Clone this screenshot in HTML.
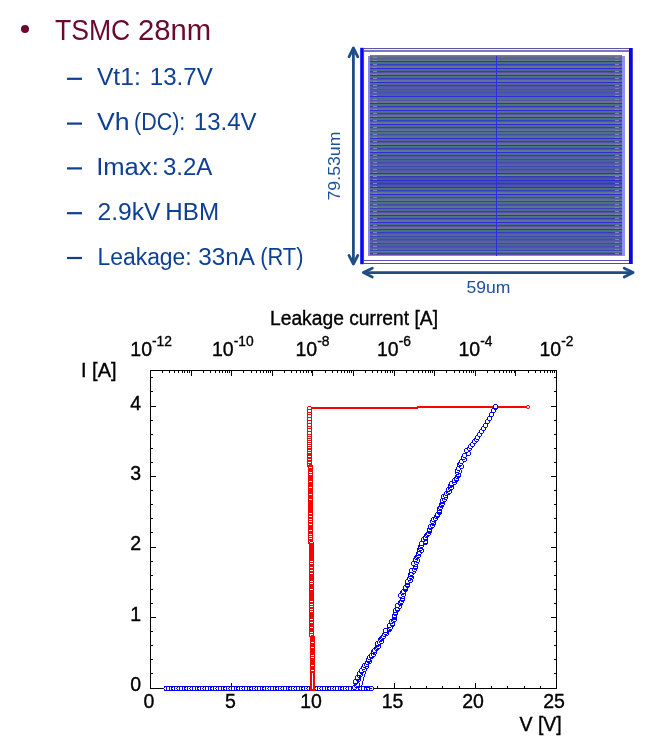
<!DOCTYPE html>
<html lang="en">
<head>
<meta charset="utf-8">
<title>TSMC 28nm</title>
<style>
html,body{margin:0;padding:0;background:#fff;}
body{width:649px;height:749px;position:relative;overflow:hidden;font-family:"Liberation Sans",sans-serif;}
svg{position:absolute;left:0;top:0;}
text{font-family:"Liberation Sans",sans-serif;}
.ax text{stroke:#000;stroke-width:0.35px;}
.t1{fill:#690a2e;font-size:28.8px;}
.t2{fill:#0d3f94;font-size:23.3px;}
.dim{fill:#1d4f9c;font-size:16.6px;}
.ax{fill:#000;font-size:19.5px;}
.sup{font-size:13.8px;}
</style>
</head>
<body>
<svg width="649" height="749" viewBox="0 0 649 749">
<!-- bullets -->
<circle cx="25" cy="28.9" r="4" fill="#690a2e"/>
<text class="t1" y="39.7"><tspan x="54.9" textLength="75.4" lengthAdjust="spacingAndGlyphs">TSMC</tspan><tspan> </tspan><tspan x="138" textLength="73.2" lengthAdjust="spacingAndGlyphs">28nm</tspan></text>
<g fill="#0d3f94">
<rect x="67" y="77.7" width="15" height="2.2"/>
<rect x="67" y="122.5" width="15" height="2.2"/>
<rect x="67" y="167.3" width="15" height="2.2"/>
<rect x="67" y="212.1" width="15" height="2.2"/>
<rect x="67" y="256.9" width="15" height="2.2"/>
</g>
<text class="t2" y="85.4"><tspan x="96.9" textLength="43.9" lengthAdjust="spacingAndGlyphs">Vt1:</tspan><tspan> </tspan><tspan x="149.8" textLength="63" lengthAdjust="spacingAndGlyphs">13.7V</tspan></text>
<text class="t2" y="130.2"><tspan x="96.9" textLength="32.6" lengthAdjust="spacingAndGlyphs">Vh</tspan><tspan> </tspan><tspan x="134" textLength="51.3" lengthAdjust="spacingAndGlyphs">(DC):</tspan><tspan> </tspan><tspan x="193.8" textLength="62.7" lengthAdjust="spacingAndGlyphs">13.4V</tspan></text>
<text class="t2" y="175"><tspan x="96.2" textLength="62.6" lengthAdjust="spacingAndGlyphs">Imax:</tspan><tspan> </tspan><tspan x="162.9" textLength="49.5" lengthAdjust="spacingAndGlyphs">3.2A</tspan></text>
<text class="t2" y="219.8"><tspan x="97.5" textLength="63" lengthAdjust="spacingAndGlyphs">2.9kV</tspan><tspan> </tspan><tspan x="165.3" textLength="53.8" lengthAdjust="spacingAndGlyphs">HBM</tspan></text>
<text class="t2" y="264.6"><tspan x="97.5" textLength="94.2" lengthAdjust="spacingAndGlyphs">Leakage:</tspan><tspan> </tspan><tspan x="198.2" textLength="55.4" lengthAdjust="spacingAndGlyphs">33nA</tspan><tspan> </tspan><tspan x="260.2" textLength="43.3" lengthAdjust="spacingAndGlyphs">(RT)</tspan></text>

<!-- layout block -->
<g shape-rendering="crispEdges">
<rect x="370" y="55" width="252" height="1" fill="#649164"/>
<rect x="370" y="56" width="252" height="1" fill="#6e6e8c"/>
<rect x="370" y="57" width="252" height="1" fill="#646496"/>
<rect x="370" y="58" width="252" height="1" fill="#526496"/>
<rect x="370" y="59" width="252" height="1" fill="#4c6e8c"/>
<rect x="370" y="60" width="252" height="1" fill="#647882"/>
<rect x="370" y="61" width="252" height="1" fill="#322ad4"/>
<rect x="370" y="62" width="252" height="1" fill="#48767c"/>
<rect x="370" y="63" width="252" height="1" fill="#4a6e86"/>
<rect x="370" y="64" width="252" height="1" fill="#343cc0"/>
<rect x="370" y="65" width="252" height="1" fill="#5850aa"/>
<rect x="370" y="66" width="252" height="1" fill="#5e748c"/>
<rect x="370" y="67" width="252" height="1" fill="#64768c"/>
<rect x="370" y="68" width="252" height="1" fill="#322ad4"/>
<rect x="370" y="69" width="252" height="1" fill="#48767c"/>
<rect x="370" y="70" width="252" height="1" fill="#4a6e86"/>
<rect x="370" y="71" width="252" height="1" fill="#343cc0"/>
<rect x="370" y="72" width="252" height="1" fill="#5850aa"/>
<rect x="370" y="73" width="252" height="1" fill="#5e748c"/>
<rect x="370" y="74" width="252" height="1" fill="#64768c"/>
<rect x="370" y="75" width="252" height="1" fill="#322ad4"/>
<rect x="370" y="76" width="252" height="1" fill="#48767c"/>
<rect x="370" y="77" width="252" height="1" fill="#4a6e86"/>
<rect x="370" y="78" width="252" height="1" fill="#343cc0"/>
<rect x="370" y="79" width="252" height="1" fill="#5850aa"/>
<rect x="370" y="80" width="252" height="1" fill="#5e748c"/>
<rect x="370" y="81" width="252" height="1" fill="#64768c"/>
<rect x="370" y="82" width="252" height="1" fill="#322ad4"/>
<rect x="370" y="83" width="252" height="1" fill="#48767c"/>
<rect x="370" y="84" width="252" height="1" fill="#4a6e86"/>
<rect x="370" y="85" width="252" height="1" fill="#343cc0"/>
<rect x="370" y="86" width="252" height="1" fill="#5850aa"/>
<rect x="370" y="87" width="252" height="1" fill="#505ea2"/>
<rect x="370" y="88" width="252" height="1" fill="#515ea2"/>
<rect x="370" y="89" width="252" height="1" fill="#474fb1"/>
<rect x="370" y="90" width="252" height="1" fill="#4b5e9f"/>
<rect x="370" y="91" width="252" height="1" fill="#4c5ca1"/>
<rect x="370" y="92" width="252" height="1" fill="#4752ad"/>
<rect x="370" y="93" width="252" height="1" fill="#4e56a8"/>
<rect x="370" y="94" width="252" height="1" fill="#505ea2"/>
<rect x="370" y="95" width="252" height="1" fill="#515ea2"/>
<rect x="370" y="96" width="252" height="1" fill="#322ad4"/>
<rect x="370" y="97" width="252" height="1" fill="#48767c"/>
<rect x="370" y="98" width="252" height="1" fill="#4a6e86"/>
<rect x="370" y="99" width="252" height="1" fill="#8250b9"/>
<rect x="370" y="100" width="252" height="1" fill="#5850aa"/>
<rect x="370" y="101" width="252" height="1" fill="#5e748c"/>
<rect x="370" y="102" width="252" height="1" fill="#64768c"/>
<rect x="370" y="103" width="252" height="1" fill="#322ad4"/>
<rect x="370" y="104" width="252" height="1" fill="#48767c"/>
<rect x="370" y="105" width="252" height="1" fill="#4a6e86"/>
<rect x="370" y="106" width="252" height="1" fill="#343cc0"/>
<rect x="370" y="107" width="252" height="1" fill="#5850aa"/>
<rect x="370" y="108" width="252" height="1" fill="#5e748c"/>
<rect x="370" y="109" width="252" height="1" fill="#64768c"/>
<rect x="370" y="110" width="252" height="1" fill="#322ad4"/>
<rect x="370" y="111" width="252" height="1" fill="#48767c"/>
<rect x="370" y="112" width="252" height="1" fill="#4a6e86"/>
<rect x="370" y="113" width="252" height="1" fill="#343cc0"/>
<rect x="370" y="114" width="252" height="1" fill="#5850aa"/>
<rect x="370" y="115" width="252" height="1" fill="#5e748c"/>
<rect x="370" y="116" width="252" height="1" fill="#64768c"/>
<rect x="370" y="117" width="252" height="1" fill="#322ad4"/>
<rect x="370" y="118" width="252" height="1" fill="#48767c"/>
<rect x="370" y="119" width="252" height="1" fill="#4a6e86"/>
<rect x="370" y="120" width="252" height="1" fill="#343cc0"/>
<rect x="370" y="121" width="252" height="1" fill="#5850aa"/>
<rect x="370" y="122" width="252" height="1" fill="#5e748c"/>
<rect x="370" y="123" width="252" height="1" fill="#64768c"/>
<rect x="370" y="124" width="252" height="1" fill="#322ad4"/>
<rect x="370" y="125" width="252" height="1" fill="#48767c"/>
<rect x="370" y="126" width="252" height="1" fill="#4a6e86"/>
<rect x="370" y="127" width="252" height="1" fill="#343cc0"/>
<rect x="370" y="128" width="252" height="1" fill="#545e9b"/>
<rect x="370" y="129" width="252" height="1" fill="#587489"/>
<rect x="370" y="130" width="252" height="1" fill="#5b7589"/>
<rect x="370" y="131" width="252" height="1" fill="#3d48b4"/>
<rect x="370" y="132" width="252" height="1" fill="#4a757f"/>
<rect x="370" y="133" width="252" height="1" fill="#4c7085"/>
<rect x="370" y="134" width="252" height="1" fill="#3e52a8"/>
<rect x="370" y="135" width="252" height="1" fill="#545e9b"/>
<rect x="370" y="136" width="252" height="1" fill="#587489"/>
<rect x="370" y="137" width="252" height="1" fill="#5b7589"/>
<rect x="370" y="138" width="252" height="1" fill="#322ad4"/>
<rect x="370" y="139" width="252" height="1" fill="#48767c"/>
<rect x="370" y="140" width="252" height="1" fill="#4a6e86"/>
<rect x="370" y="141" width="252" height="1" fill="#343cc0"/>
<rect x="370" y="142" width="252" height="1" fill="#5850aa"/>
<rect x="370" y="143" width="252" height="1" fill="#5e748c"/>
<rect x="370" y="144" width="252" height="1" fill="#64768c"/>
<rect x="370" y="145" width="252" height="1" fill="#322ad4"/>
<rect x="370" y="146" width="252" height="1" fill="#48767c"/>
<rect x="370" y="147" width="252" height="1" fill="#4a6e86"/>
<rect x="370" y="148" width="252" height="1" fill="#343cc0"/>
<rect x="370" y="149" width="252" height="1" fill="#5850aa"/>
<rect x="370" y="150" width="252" height="1" fill="#5e748c"/>
<rect x="370" y="151" width="252" height="1" fill="#64768c"/>
<rect x="370" y="152" width="252" height="1" fill="#322ad4"/>
<rect x="370" y="153" width="252" height="1" fill="#48767c"/>
<rect x="370" y="154" width="252" height="1" fill="#4a6e86"/>
<rect x="370" y="155" width="252" height="1" fill="#343cc0"/>
<rect x="370" y="156" width="252" height="1" fill="#5155a9"/>
<rect x="370" y="157" width="252" height="1" fill="#53639d"/>
<rect x="370" y="158" width="252" height="1" fill="#56649d"/>
<rect x="370" y="159" width="252" height="1" fill="#4246ba"/>
<rect x="370" y="160" width="252" height="1" fill="#4a6496"/>
<rect x="370" y="161" width="252" height="1" fill="#4b619a"/>
<rect x="370" y="162" width="252" height="1" fill="#424db2"/>
<rect x="370" y="163" width="252" height="1" fill="#5155a9"/>
<rect x="370" y="164" width="252" height="1" fill="#53639d"/>
<rect x="370" y="165" width="252" height="1" fill="#56649d"/>
<rect x="370" y="166" width="252" height="1" fill="#4246ba"/>
<rect x="370" y="167" width="252" height="1" fill="#4a6496"/>
<rect x="370" y="168" width="252" height="1" fill="#4b619a"/>
<rect x="370" y="169" width="252" height="1" fill="#424db2"/>
<rect x="370" y="170" width="252" height="1" fill="#5155a9"/>
<rect x="370" y="171" width="252" height="1" fill="#53639d"/>
<rect x="370" y="172" width="252" height="1" fill="#56649d"/>
<rect x="370" y="173" width="252" height="1" fill="#322ad4"/>
<rect x="370" y="174" width="252" height="1" fill="#48767c"/>
<rect x="370" y="175" width="252" height="1" fill="#9669af"/>
<rect x="370" y="176" width="252" height="1" fill="#343cc0"/>
<rect x="370" y="177" width="252" height="1" fill="#4642ba"/>
<rect x="370" y="178" width="252" height="1" fill="#4955a9"/>
<rect x="370" y="179" width="252" height="1" fill="#4d56a9"/>
<rect x="370" y="180" width="252" height="1" fill="#312dd1"/>
<rect x="370" y="181" width="252" height="1" fill="#3d56a0"/>
<rect x="370" y="182" width="252" height="1" fill="#3e52a6"/>
<rect x="370" y="183" width="252" height="1" fill="#3237c6"/>
<rect x="370" y="184" width="252" height="1" fill="#4642ba"/>
<rect x="370" y="185" width="252" height="1" fill="#4955a9"/>
<rect x="370" y="186" width="252" height="1" fill="#4d56a9"/>
<rect x="370" y="187" width="252" height="1" fill="#322ad4"/>
<rect x="370" y="188" width="252" height="1" fill="#48767c"/>
<rect x="370" y="189" width="252" height="1" fill="#4a6e86"/>
<rect x="370" y="190" width="252" height="1" fill="#343cc0"/>
<rect x="370" y="191" width="252" height="1" fill="#5850aa"/>
<rect x="370" y="192" width="252" height="1" fill="#5e748c"/>
<rect x="370" y="193" width="252" height="1" fill="#64768c"/>
<rect x="370" y="194" width="252" height="1" fill="#322ad4"/>
<rect x="370" y="195" width="252" height="1" fill="#4a757e"/>
<rect x="370" y="196" width="252" height="1" fill="#4b7085"/>
<rect x="370" y="197" width="252" height="1" fill="#3c4dae"/>
<rect x="370" y="198" width="252" height="1" fill="#555b9f"/>
<rect x="370" y="199" width="252" height="1" fill="#59748a"/>
<rect x="370" y="200" width="252" height="1" fill="#5d758a"/>
<rect x="370" y="201" width="252" height="1" fill="#3a40bc"/>
<rect x="370" y="202" width="252" height="1" fill="#4a757e"/>
<rect x="370" y="203" width="252" height="1" fill="#4b7085"/>
<rect x="370" y="204" width="252" height="1" fill="#3c4dae"/>
<rect x="370" y="205" width="252" height="1" fill="#6e46a5"/>
<rect x="370" y="206" width="252" height="1" fill="#59748a"/>
<rect x="370" y="207" width="252" height="1" fill="#5d758a"/>
<rect x="370" y="208" width="252" height="1" fill="#3a40bc"/>
<rect x="370" y="209" width="252" height="1" fill="#4a757e"/>
<rect x="370" y="210" width="252" height="1" fill="#4b7085"/>
<rect x="370" y="211" width="252" height="1" fill="#343cc0"/>
<rect x="370" y="212" width="252" height="1" fill="#5850aa"/>
<rect x="370" y="213" width="252" height="1" fill="#5e748c"/>
<rect x="370" y="214" width="252" height="1" fill="#64768c"/>
<rect x="370" y="215" width="252" height="1" fill="#322ad4"/>
<rect x="370" y="216" width="252" height="1" fill="#48767c"/>
<rect x="370" y="217" width="252" height="1" fill="#4a6e86"/>
<rect x="370" y="218" width="252" height="1" fill="#343cc0"/>
<rect x="370" y="219" width="252" height="1" fill="#5850aa"/>
<rect x="370" y="220" width="252" height="1" fill="#5e748c"/>
<rect x="370" y="221" width="252" height="1" fill="#64768c"/>
<rect x="370" y="222" width="252" height="1" fill="#322ad4"/>
<rect x="370" y="223" width="252" height="1" fill="#48767c"/>
<rect x="370" y="224" width="252" height="1" fill="#4a6e86"/>
<rect x="370" y="225" width="252" height="1" fill="#343cc0"/>
<rect x="370" y="226" width="252" height="1" fill="#5850aa"/>
<rect x="370" y="227" width="252" height="1" fill="#5e748c"/>
<rect x="370" y="228" width="252" height="1" fill="#64768c"/>
<rect x="370" y="229" width="252" height="1" fill="#322ad4"/>
<rect x="370" y="230" width="252" height="1" fill="#48767c"/>
<rect x="370" y="231" width="252" height="1" fill="#4a6e86"/>
<rect x="370" y="232" width="252" height="1" fill="#343cc0"/>
<rect x="370" y="233" width="252" height="1" fill="#5154a9"/>
<rect x="370" y="234" width="252" height="1" fill="#54659b"/>
<rect x="370" y="235" width="252" height="1" fill="#57669b"/>
<rect x="370" y="236" width="252" height="1" fill="#4043bc"/>
<rect x="370" y="237" width="252" height="1" fill="#4a6694"/>
<rect x="370" y="238" width="252" height="1" fill="#4b6299"/>
<rect x="370" y="239" width="252" height="1" fill="#414bb3"/>
<rect x="370" y="240" width="252" height="1" fill="#5154a9"/>
<rect x="370" y="241" width="252" height="1" fill="#54659b"/>
<rect x="370" y="242" width="252" height="1" fill="#57669b"/>
<rect x="370" y="243" width="252" height="1" fill="#4043bc"/>
<rect x="370" y="244" width="252" height="1" fill="#4a6694"/>
<rect x="370" y="245" width="252" height="1" fill="#4b6299"/>
<rect x="370" y="246" width="252" height="1" fill="#414bb3"/>
<rect x="370" y="247" width="252" height="1" fill="#5154a9"/>
<rect x="370" y="248" width="252" height="1" fill="#54659b"/>
<rect x="370" y="249" width="252" height="1" fill="#57669b"/>
<rect x="370" y="250" width="252" height="1" fill="#4043bc"/>
<rect x="370" y="251" width="252" height="1" fill="#8764b2"/>
<rect x="370" y="252" width="252" height="1" fill="#4a6e86"/>
<rect x="370" y="253" width="252" height="1" fill="#343cc0"/>
<rect x="370" y="254" width="252" height="1" fill="#5850aa"/>
<rect x="370" y="255" width="252" height="1" fill="#80968c"/>
<rect x="373" y="57" width="4" height="1" fill="#8480d0"/><rect x="615" y="57" width="4" height="1" fill="#8a7cc8"/>
<rect x="373" y="60" width="4" height="1" fill="#8480d0"/><rect x="615" y="60" width="4" height="1" fill="#8a7cc8"/>
<rect x="373" y="64" width="4" height="1" fill="#8480d0"/><rect x="615" y="64" width="4" height="1" fill="#8a7cc8"/>
<rect x="373" y="67" width="4" height="1" fill="#8480d0"/><rect x="615" y="67" width="4" height="1" fill="#8a7cc8"/>
<rect x="373" y="71" width="4" height="1" fill="#8480d0"/><rect x="615" y="71" width="4" height="1" fill="#8a7cc8"/>
<rect x="373" y="74" width="4" height="1" fill="#8480d0"/><rect x="615" y="74" width="4" height="1" fill="#8a7cc8"/>
<rect x="373" y="78" width="4" height="1" fill="#8480d0"/><rect x="615" y="78" width="4" height="1" fill="#8a7cc8"/>
<rect x="373" y="81" width="4" height="1" fill="#8480d0"/><rect x="615" y="81" width="4" height="1" fill="#8a7cc8"/>
<rect x="373" y="85" width="4" height="1" fill="#8480d0"/><rect x="615" y="85" width="4" height="1" fill="#8a7cc8"/>
<rect x="373" y="88" width="4" height="1" fill="#8480d0"/><rect x="615" y="88" width="4" height="1" fill="#8a7cc8"/>
<rect x="373" y="92" width="4" height="1" fill="#8480d0"/><rect x="615" y="92" width="4" height="1" fill="#8a7cc8"/>
<rect x="373" y="95" width="4" height="1" fill="#8480d0"/><rect x="615" y="95" width="4" height="1" fill="#8a7cc8"/>
<rect x="373" y="99" width="4" height="1" fill="#8480d0"/><rect x="615" y="99" width="4" height="1" fill="#8a7cc8"/>
<rect x="373" y="102" width="4" height="1" fill="#8480d0"/><rect x="615" y="102" width="4" height="1" fill="#8a7cc8"/>
<rect x="373" y="106" width="4" height="1" fill="#8480d0"/><rect x="615" y="106" width="4" height="1" fill="#8a7cc8"/>
<rect x="373" y="109" width="4" height="1" fill="#8480d0"/><rect x="615" y="109" width="4" height="1" fill="#8a7cc8"/>
<rect x="373" y="113" width="4" height="1" fill="#8480d0"/><rect x="615" y="113" width="4" height="1" fill="#8a7cc8"/>
<rect x="373" y="116" width="4" height="1" fill="#8480d0"/><rect x="615" y="116" width="4" height="1" fill="#8a7cc8"/>
<rect x="373" y="120" width="4" height="1" fill="#8480d0"/><rect x="615" y="120" width="4" height="1" fill="#8a7cc8"/>
<rect x="373" y="123" width="4" height="1" fill="#8480d0"/><rect x="615" y="123" width="4" height="1" fill="#8a7cc8"/>
<rect x="373" y="127" width="4" height="1" fill="#8480d0"/><rect x="615" y="127" width="4" height="1" fill="#8a7cc8"/>
<rect x="373" y="130" width="4" height="1" fill="#8480d0"/><rect x="615" y="130" width="4" height="1" fill="#8a7cc8"/>
<rect x="373" y="134" width="4" height="1" fill="#8480d0"/><rect x="615" y="134" width="4" height="1" fill="#8a7cc8"/>
<rect x="373" y="137" width="4" height="1" fill="#8480d0"/><rect x="615" y="137" width="4" height="1" fill="#8a7cc8"/>
<rect x="373" y="141" width="4" height="1" fill="#8480d0"/><rect x="615" y="141" width="4" height="1" fill="#8a7cc8"/>
<rect x="373" y="144" width="4" height="1" fill="#8480d0"/><rect x="615" y="144" width="4" height="1" fill="#8a7cc8"/>
<rect x="373" y="148" width="4" height="1" fill="#8480d0"/><rect x="615" y="148" width="4" height="1" fill="#8a7cc8"/>
<rect x="373" y="151" width="4" height="1" fill="#8480d0"/><rect x="615" y="151" width="4" height="1" fill="#8a7cc8"/>
<rect x="373" y="155" width="4" height="1" fill="#8480d0"/><rect x="615" y="155" width="4" height="1" fill="#8a7cc8"/>
<rect x="373" y="158" width="4" height="1" fill="#8480d0"/><rect x="615" y="158" width="4" height="1" fill="#8a7cc8"/>
<rect x="373" y="162" width="4" height="1" fill="#8480d0"/><rect x="615" y="162" width="4" height="1" fill="#8a7cc8"/>
<rect x="373" y="165" width="4" height="1" fill="#8480d0"/><rect x="615" y="165" width="4" height="1" fill="#8a7cc8"/>
<rect x="373" y="169" width="4" height="1" fill="#8480d0"/><rect x="615" y="169" width="4" height="1" fill="#8a7cc8"/>
<rect x="373" y="172" width="4" height="1" fill="#8480d0"/><rect x="615" y="172" width="4" height="1" fill="#8a7cc8"/>
<rect x="373" y="176" width="4" height="1" fill="#8480d0"/><rect x="615" y="176" width="4" height="1" fill="#8a7cc8"/>
<rect x="373" y="179" width="4" height="1" fill="#8480d0"/><rect x="615" y="179" width="4" height="1" fill="#8a7cc8"/>
<rect x="373" y="183" width="4" height="1" fill="#8480d0"/><rect x="615" y="183" width="4" height="1" fill="#8a7cc8"/>
<rect x="373" y="186" width="4" height="1" fill="#8480d0"/><rect x="615" y="186" width="4" height="1" fill="#8a7cc8"/>
<rect x="373" y="190" width="4" height="1" fill="#8480d0"/><rect x="615" y="190" width="4" height="1" fill="#8a7cc8"/>
<rect x="373" y="193" width="4" height="1" fill="#8480d0"/><rect x="615" y="193" width="4" height="1" fill="#8a7cc8"/>
<rect x="373" y="197" width="4" height="1" fill="#8480d0"/><rect x="615" y="197" width="4" height="1" fill="#8a7cc8"/>
<rect x="373" y="200" width="4" height="1" fill="#8480d0"/><rect x="615" y="200" width="4" height="1" fill="#8a7cc8"/>
<rect x="373" y="204" width="4" height="1" fill="#8480d0"/><rect x="615" y="204" width="4" height="1" fill="#8a7cc8"/>
<rect x="373" y="207" width="4" height="1" fill="#8480d0"/><rect x="615" y="207" width="4" height="1" fill="#8a7cc8"/>
<rect x="373" y="211" width="4" height="1" fill="#8480d0"/><rect x="615" y="211" width="4" height="1" fill="#8a7cc8"/>
<rect x="373" y="214" width="4" height="1" fill="#8480d0"/><rect x="615" y="214" width="4" height="1" fill="#8a7cc8"/>
<rect x="373" y="218" width="4" height="1" fill="#8480d0"/><rect x="615" y="218" width="4" height="1" fill="#8a7cc8"/>
<rect x="373" y="221" width="4" height="1" fill="#8480d0"/><rect x="615" y="221" width="4" height="1" fill="#8a7cc8"/>
<rect x="373" y="225" width="4" height="1" fill="#8480d0"/><rect x="615" y="225" width="4" height="1" fill="#8a7cc8"/>
<rect x="373" y="228" width="4" height="1" fill="#8480d0"/><rect x="615" y="228" width="4" height="1" fill="#8a7cc8"/>
<rect x="373" y="232" width="4" height="1" fill="#8480d0"/><rect x="615" y="232" width="4" height="1" fill="#8a7cc8"/>
<rect x="373" y="235" width="4" height="1" fill="#8480d0"/><rect x="615" y="235" width="4" height="1" fill="#8a7cc8"/>
<rect x="373" y="239" width="4" height="1" fill="#8480d0"/><rect x="615" y="239" width="4" height="1" fill="#8a7cc8"/>
<rect x="373" y="242" width="4" height="1" fill="#8480d0"/><rect x="615" y="242" width="4" height="1" fill="#8a7cc8"/>
<rect x="373" y="246" width="4" height="1" fill="#8480d0"/><rect x="615" y="246" width="4" height="1" fill="#8a7cc8"/>
<rect x="373" y="249" width="4" height="1" fill="#8480d0"/><rect x="615" y="249" width="4" height="1" fill="#8a7cc8"/>
<rect x="373" y="253" width="4" height="1" fill="#8480d0"/><rect x="615" y="253" width="4" height="1" fill="#8a7cc8"/>
</g>
<!-- layout frame -->
<g shape-rendering="crispEdges">
<rect x="364" y="48" width="265" height="1" fill="#5f55a5"/>
<rect x="364" y="49" width="265" height="1" fill="#f8f4e1"/>
<rect x="364" y="50" width="265" height="2" fill="#7d73cd"/>
<rect x="364" y="260" width="265" height="1" fill="#5555c8"/>
<rect x="364" y="263" width="265" height="1" fill="#554b9b"/>
<rect x="364" y="52" width="1" height="208" fill="#f3eec0"/>
<rect x="628" y="52" width="1" height="208" fill="#f3eec0"/>
<rect x="629" y="48" width="3" height="216" fill="#0505ff"/>
<rect x="632" y="48" width="1" height="216" fill="#5046c8"/>
<rect x="368" y="56" width="2" height="200" fill="#8484f2"/>
<rect x="622" y="56" width="3" height="200" fill="#9090f4"/>
<rect x="496" y="56" width="1" height="200" fill="#2a30e0"/>
</g>
<rect x="360.2" y="47.8" width="3.6" height="216.4" fill="#0808ff"/>
<!-- dimension arrows -->
<g stroke="#1f4e85" stroke-width="2.8" fill="none" stroke-linecap="round" stroke-linejoin="round">
<line x1="353.4" y1="49" x2="353.4" y2="263"/>
<polyline points="349,56.8 353.4,48 357.8,56.8"/>
<polyline points="349,255.4 353.4,264.1 357.8,255.4"/>
<line x1="364" y1="272.6" x2="632.5" y2="272.6"/>
<polyline points="372.3,268.2 363.4,272.6 372.3,277"/>
<polyline points="624.2,268.2 633.1,272.6 624.2,277"/>
</g>
<text class="dim" x="466.5" y="292.8" textLength="44" lengthAdjust="spacingAndGlyphs">59um</text>
<text class="dim" transform="translate(339.8,200.5) rotate(-90)" textLength="69" lengthAdjust="spacingAndGlyphs">79.53um</text>

<!-- plot -->
<g shape-rendering="crispEdges" fill="none">
<rect x="150.5" y="370.5" width="406.0" height="318.0" stroke="#000" stroke-width="1"/>
<line x1="150.5" y1="688.5" x2="150.5" y2="683" stroke="#000" stroke-width="1"/>
<line x1="166.5" y1="688.5" x2="166.5" y2="686" stroke="#000" stroke-width="1"/>
<line x1="182.5" y1="688.5" x2="182.5" y2="686" stroke="#000" stroke-width="1"/>
<line x1="199.5" y1="688.5" x2="199.5" y2="686" stroke="#000" stroke-width="1"/>
<line x1="215.5" y1="688.5" x2="215.5" y2="686" stroke="#000" stroke-width="1"/>
<line x1="231.5" y1="688.5" x2="231.5" y2="683" stroke="#000" stroke-width="1"/>
<line x1="247.5" y1="688.5" x2="247.5" y2="686" stroke="#000" stroke-width="1"/>
<line x1="264.5" y1="688.5" x2="264.5" y2="686" stroke="#000" stroke-width="1"/>
<line x1="280.5" y1="688.5" x2="280.5" y2="686" stroke="#000" stroke-width="1"/>
<line x1="296.5" y1="688.5" x2="296.5" y2="686" stroke="#000" stroke-width="1"/>
<line x1="312.5" y1="688.5" x2="312.5" y2="683" stroke="#000" stroke-width="1"/>
<line x1="329.5" y1="688.5" x2="329.5" y2="686" stroke="#000" stroke-width="1"/>
<line x1="345.5" y1="688.5" x2="345.5" y2="686" stroke="#000" stroke-width="1"/>
<line x1="361.5" y1="688.5" x2="361.5" y2="686" stroke="#000" stroke-width="1"/>
<line x1="377.5" y1="688.5" x2="377.5" y2="686" stroke="#000" stroke-width="1"/>
<line x1="394.5" y1="688.5" x2="394.5" y2="683" stroke="#000" stroke-width="1"/>
<line x1="410.5" y1="688.5" x2="410.5" y2="686" stroke="#000" stroke-width="1"/>
<line x1="426.5" y1="688.5" x2="426.5" y2="686" stroke="#000" stroke-width="1"/>
<line x1="442.5" y1="688.5" x2="442.5" y2="686" stroke="#000" stroke-width="1"/>
<line x1="459.5" y1="688.5" x2="459.5" y2="686" stroke="#000" stroke-width="1"/>
<line x1="475.5" y1="688.5" x2="475.5" y2="683" stroke="#000" stroke-width="1"/>
<line x1="491.5" y1="688.5" x2="491.5" y2="686" stroke="#000" stroke-width="1"/>
<line x1="507.5" y1="688.5" x2="507.5" y2="686" stroke="#000" stroke-width="1"/>
<line x1="524.5" y1="688.5" x2="524.5" y2="686" stroke="#000" stroke-width="1"/>
<line x1="540.5" y1="688.5" x2="540.5" y2="686" stroke="#000" stroke-width="1"/>
<line x1="556.5" y1="688.5" x2="556.5" y2="683" stroke="#000" stroke-width="1"/>
<line x1="150.5" y1="688.5" x2="156" y2="688.5" stroke="#000" stroke-width="1"/>
<line x1="556.5" y1="688.5" x2="551" y2="688.5" stroke="#000" stroke-width="1"/>
<line x1="150.5" y1="673.5" x2="153" y2="673.5" stroke="#000" stroke-width="1"/>
<line x1="556.5" y1="673.5" x2="554" y2="673.5" stroke="#000" stroke-width="1"/>
<line x1="150.5" y1="659.5" x2="153" y2="659.5" stroke="#000" stroke-width="1"/>
<line x1="556.5" y1="659.5" x2="554" y2="659.5" stroke="#000" stroke-width="1"/>
<line x1="150.5" y1="645.5" x2="153" y2="645.5" stroke="#000" stroke-width="1"/>
<line x1="556.5" y1="645.5" x2="554" y2="645.5" stroke="#000" stroke-width="1"/>
<line x1="150.5" y1="631.5" x2="153" y2="631.5" stroke="#000" stroke-width="1"/>
<line x1="556.5" y1="631.5" x2="554" y2="631.5" stroke="#000" stroke-width="1"/>
<line x1="150.5" y1="617.5" x2="156" y2="617.5" stroke="#000" stroke-width="1"/>
<line x1="556.5" y1="617.5" x2="551" y2="617.5" stroke="#000" stroke-width="1"/>
<line x1="150.5" y1="603.5" x2="153" y2="603.5" stroke="#000" stroke-width="1"/>
<line x1="556.5" y1="603.5" x2="554" y2="603.5" stroke="#000" stroke-width="1"/>
<line x1="150.5" y1="589.5" x2="153" y2="589.5" stroke="#000" stroke-width="1"/>
<line x1="556.5" y1="589.5" x2="554" y2="589.5" stroke="#000" stroke-width="1"/>
<line x1="150.5" y1="575.5" x2="153" y2="575.5" stroke="#000" stroke-width="1"/>
<line x1="556.5" y1="575.5" x2="554" y2="575.5" stroke="#000" stroke-width="1"/>
<line x1="150.5" y1="561.5" x2="153" y2="561.5" stroke="#000" stroke-width="1"/>
<line x1="556.5" y1="561.5" x2="554" y2="561.5" stroke="#000" stroke-width="1"/>
<line x1="150.5" y1="547.5" x2="156" y2="547.5" stroke="#000" stroke-width="1"/>
<line x1="556.5" y1="547.5" x2="551" y2="547.5" stroke="#000" stroke-width="1"/>
<line x1="150.5" y1="532.5" x2="153" y2="532.5" stroke="#000" stroke-width="1"/>
<line x1="556.5" y1="532.5" x2="554" y2="532.5" stroke="#000" stroke-width="1"/>
<line x1="150.5" y1="518.5" x2="153" y2="518.5" stroke="#000" stroke-width="1"/>
<line x1="556.5" y1="518.5" x2="554" y2="518.5" stroke="#000" stroke-width="1"/>
<line x1="150.5" y1="504.5" x2="153" y2="504.5" stroke="#000" stroke-width="1"/>
<line x1="556.5" y1="504.5" x2="554" y2="504.5" stroke="#000" stroke-width="1"/>
<line x1="150.5" y1="490.5" x2="153" y2="490.5" stroke="#000" stroke-width="1"/>
<line x1="556.5" y1="490.5" x2="554" y2="490.5" stroke="#000" stroke-width="1"/>
<line x1="150.5" y1="476.5" x2="156" y2="476.5" stroke="#000" stroke-width="1"/>
<line x1="556.5" y1="476.5" x2="551" y2="476.5" stroke="#000" stroke-width="1"/>
<line x1="150.5" y1="462.5" x2="153" y2="462.5" stroke="#000" stroke-width="1"/>
<line x1="556.5" y1="462.5" x2="554" y2="462.5" stroke="#000" stroke-width="1"/>
<line x1="150.5" y1="448.5" x2="153" y2="448.5" stroke="#000" stroke-width="1"/>
<line x1="556.5" y1="448.5" x2="554" y2="448.5" stroke="#000" stroke-width="1"/>
<line x1="150.5" y1="434.5" x2="153" y2="434.5" stroke="#000" stroke-width="1"/>
<line x1="556.5" y1="434.5" x2="554" y2="434.5" stroke="#000" stroke-width="1"/>
<line x1="150.5" y1="420.5" x2="153" y2="420.5" stroke="#000" stroke-width="1"/>
<line x1="556.5" y1="420.5" x2="554" y2="420.5" stroke="#000" stroke-width="1"/>
<line x1="150.5" y1="406.5" x2="156" y2="406.5" stroke="#000" stroke-width="1"/>
<line x1="556.5" y1="406.5" x2="551" y2="406.5" stroke="#000" stroke-width="1"/>
<line x1="150.5" y1="391.5" x2="153" y2="391.5" stroke="#000" stroke-width="1"/>
<line x1="556.5" y1="391.5" x2="554" y2="391.5" stroke="#000" stroke-width="1"/>
<line x1="150.5" y1="377.5" x2="153" y2="377.5" stroke="#000" stroke-width="1"/>
<line x1="556.5" y1="377.5" x2="554" y2="377.5" stroke="#000" stroke-width="1"/>
<line x1="150.5" y1="370.5" x2="150.5" y2="376" stroke="#000" stroke-width="1"/>
<line x1="162.5" y1="370.5" x2="162.5" y2="373" stroke="#000" stroke-width="1"/>
<line x1="169.5" y1="370.5" x2="169.5" y2="373" stroke="#000" stroke-width="1"/>
<line x1="174.5" y1="370.5" x2="174.5" y2="373" stroke="#000" stroke-width="1"/>
<line x1="178.5" y1="370.5" x2="178.5" y2="373" stroke="#000" stroke-width="1"/>
<line x1="182.5" y1="370.5" x2="182.5" y2="373" stroke="#000" stroke-width="1"/>
<line x1="184.5" y1="370.5" x2="184.5" y2="373" stroke="#000" stroke-width="1"/>
<line x1="187.5" y1="370.5" x2="187.5" y2="373" stroke="#000" stroke-width="1"/>
<line x1="189.5" y1="370.5" x2="189.5" y2="373" stroke="#000" stroke-width="1"/>
<line x1="191.5" y1="370.5" x2="191.5" y2="376" stroke="#000" stroke-width="1"/>
<line x1="203.5" y1="370.5" x2="203.5" y2="373" stroke="#000" stroke-width="1"/>
<line x1="210.5" y1="370.5" x2="210.5" y2="373" stroke="#000" stroke-width="1"/>
<line x1="215.5" y1="370.5" x2="215.5" y2="373" stroke="#000" stroke-width="1"/>
<line x1="219.5" y1="370.5" x2="219.5" y2="373" stroke="#000" stroke-width="1"/>
<line x1="222.5" y1="370.5" x2="222.5" y2="373" stroke="#000" stroke-width="1"/>
<line x1="225.5" y1="370.5" x2="225.5" y2="373" stroke="#000" stroke-width="1"/>
<line x1="227.5" y1="370.5" x2="227.5" y2="373" stroke="#000" stroke-width="1"/>
<line x1="229.5" y1="370.5" x2="229.5" y2="373" stroke="#000" stroke-width="1"/>
<line x1="231.5" y1="370.5" x2="231.5" y2="376" stroke="#000" stroke-width="1"/>
<line x1="243.5" y1="370.5" x2="243.5" y2="373" stroke="#000" stroke-width="1"/>
<line x1="251.5" y1="370.5" x2="251.5" y2="373" stroke="#000" stroke-width="1"/>
<line x1="256.5" y1="370.5" x2="256.5" y2="373" stroke="#000" stroke-width="1"/>
<line x1="260.5" y1="370.5" x2="260.5" y2="373" stroke="#000" stroke-width="1"/>
<line x1="263.5" y1="370.5" x2="263.5" y2="373" stroke="#000" stroke-width="1"/>
<line x1="266.5" y1="370.5" x2="266.5" y2="373" stroke="#000" stroke-width="1"/>
<line x1="268.5" y1="370.5" x2="268.5" y2="373" stroke="#000" stroke-width="1"/>
<line x1="270.5" y1="370.5" x2="270.5" y2="373" stroke="#000" stroke-width="1"/>
<line x1="272.5" y1="370.5" x2="272.5" y2="376" stroke="#000" stroke-width="1"/>
<line x1="284.5" y1="370.5" x2="284.5" y2="373" stroke="#000" stroke-width="1"/>
<line x1="291.5" y1="370.5" x2="291.5" y2="373" stroke="#000" stroke-width="1"/>
<line x1="296.5" y1="370.5" x2="296.5" y2="373" stroke="#000" stroke-width="1"/>
<line x1="300.5" y1="370.5" x2="300.5" y2="373" stroke="#000" stroke-width="1"/>
<line x1="303.5" y1="370.5" x2="303.5" y2="373" stroke="#000" stroke-width="1"/>
<line x1="306.5" y1="370.5" x2="306.5" y2="373" stroke="#000" stroke-width="1"/>
<line x1="308.5" y1="370.5" x2="308.5" y2="373" stroke="#000" stroke-width="1"/>
<line x1="311.5" y1="370.5" x2="311.5" y2="373" stroke="#000" stroke-width="1"/>
<line x1="312.5" y1="370.5" x2="312.5" y2="376" stroke="#000" stroke-width="1"/>
<line x1="325.5" y1="370.5" x2="325.5" y2="373" stroke="#000" stroke-width="1"/>
<line x1="332.5" y1="370.5" x2="332.5" y2="373" stroke="#000" stroke-width="1"/>
<line x1="337.5" y1="370.5" x2="337.5" y2="373" stroke="#000" stroke-width="1"/>
<line x1="341.5" y1="370.5" x2="341.5" y2="373" stroke="#000" stroke-width="1"/>
<line x1="344.5" y1="370.5" x2="344.5" y2="373" stroke="#000" stroke-width="1"/>
<line x1="347.5" y1="370.5" x2="347.5" y2="373" stroke="#000" stroke-width="1"/>
<line x1="349.5" y1="370.5" x2="349.5" y2="373" stroke="#000" stroke-width="1"/>
<line x1="351.5" y1="370.5" x2="351.5" y2="373" stroke="#000" stroke-width="1"/>
<line x1="353.5" y1="370.5" x2="353.5" y2="376" stroke="#000" stroke-width="1"/>
<line x1="365.5" y1="370.5" x2="365.5" y2="373" stroke="#000" stroke-width="1"/>
<line x1="372.5" y1="370.5" x2="372.5" y2="373" stroke="#000" stroke-width="1"/>
<line x1="377.5" y1="370.5" x2="377.5" y2="373" stroke="#000" stroke-width="1"/>
<line x1="381.5" y1="370.5" x2="381.5" y2="373" stroke="#000" stroke-width="1"/>
<line x1="385.5" y1="370.5" x2="385.5" y2="373" stroke="#000" stroke-width="1"/>
<line x1="387.5" y1="370.5" x2="387.5" y2="373" stroke="#000" stroke-width="1"/>
<line x1="390.5" y1="370.5" x2="390.5" y2="373" stroke="#000" stroke-width="1"/>
<line x1="392.5" y1="370.5" x2="392.5" y2="373" stroke="#000" stroke-width="1"/>
<line x1="394.5" y1="370.5" x2="394.5" y2="376" stroke="#000" stroke-width="1"/>
<line x1="406.5" y1="370.5" x2="406.5" y2="373" stroke="#000" stroke-width="1"/>
<line x1="413.5" y1="370.5" x2="413.5" y2="373" stroke="#000" stroke-width="1"/>
<line x1="418.5" y1="370.5" x2="418.5" y2="373" stroke="#000" stroke-width="1"/>
<line x1="422.5" y1="370.5" x2="422.5" y2="373" stroke="#000" stroke-width="1"/>
<line x1="425.5" y1="370.5" x2="425.5" y2="373" stroke="#000" stroke-width="1"/>
<line x1="428.5" y1="370.5" x2="428.5" y2="373" stroke="#000" stroke-width="1"/>
<line x1="430.5" y1="370.5" x2="430.5" y2="373" stroke="#000" stroke-width="1"/>
<line x1="432.5" y1="370.5" x2="432.5" y2="373" stroke="#000" stroke-width="1"/>
<line x1="434.5" y1="370.5" x2="434.5" y2="376" stroke="#000" stroke-width="1"/>
<line x1="446.5" y1="370.5" x2="446.5" y2="373" stroke="#000" stroke-width="1"/>
<line x1="454.5" y1="370.5" x2="454.5" y2="373" stroke="#000" stroke-width="1"/>
<line x1="459.5" y1="370.5" x2="459.5" y2="373" stroke="#000" stroke-width="1"/>
<line x1="463.5" y1="370.5" x2="463.5" y2="373" stroke="#000" stroke-width="1"/>
<line x1="466.5" y1="370.5" x2="466.5" y2="373" stroke="#000" stroke-width="1"/>
<line x1="469.5" y1="370.5" x2="469.5" y2="373" stroke="#000" stroke-width="1"/>
<line x1="471.5" y1="370.5" x2="471.5" y2="373" stroke="#000" stroke-width="1"/>
<line x1="473.5" y1="370.5" x2="473.5" y2="373" stroke="#000" stroke-width="1"/>
<line x1="475.5" y1="370.5" x2="475.5" y2="376" stroke="#000" stroke-width="1"/>
<line x1="487.5" y1="370.5" x2="487.5" y2="373" stroke="#000" stroke-width="1"/>
<line x1="494.5" y1="370.5" x2="494.5" y2="373" stroke="#000" stroke-width="1"/>
<line x1="499.5" y1="370.5" x2="499.5" y2="373" stroke="#000" stroke-width="1"/>
<line x1="503.5" y1="370.5" x2="503.5" y2="373" stroke="#000" stroke-width="1"/>
<line x1="506.5" y1="370.5" x2="506.5" y2="373" stroke="#000" stroke-width="1"/>
<line x1="509.5" y1="370.5" x2="509.5" y2="373" stroke="#000" stroke-width="1"/>
<line x1="511.5" y1="370.5" x2="511.5" y2="373" stroke="#000" stroke-width="1"/>
<line x1="514.5" y1="370.5" x2="514.5" y2="373" stroke="#000" stroke-width="1"/>
<line x1="515.5" y1="370.5" x2="515.5" y2="376" stroke="#000" stroke-width="1"/>
<line x1="528.5" y1="370.5" x2="528.5" y2="373" stroke="#000" stroke-width="1"/>
<line x1="535.5" y1="370.5" x2="535.5" y2="373" stroke="#000" stroke-width="1"/>
<line x1="540.5" y1="370.5" x2="540.5" y2="373" stroke="#000" stroke-width="1"/>
<line x1="544.5" y1="370.5" x2="544.5" y2="373" stroke="#000" stroke-width="1"/>
<line x1="547.5" y1="370.5" x2="547.5" y2="373" stroke="#000" stroke-width="1"/>
<line x1="550.5" y1="370.5" x2="550.5" y2="373" stroke="#000" stroke-width="1"/>
<line x1="552.5" y1="370.5" x2="552.5" y2="373" stroke="#000" stroke-width="1"/>
<line x1="554.5" y1="370.5" x2="554.5" y2="373" stroke="#000" stroke-width="1"/>
<line x1="556.5" y1="370.5" x2="556.5" y2="376" stroke="#000" stroke-width="1"/>
</g>
<g shape-rendering="crispEdges" fill="#fff" stroke="#0000ff" stroke-width="1">
<circle cx="166.0" cy="688.5" r="2"/>
<circle cx="168.6" cy="688.5" r="2"/>
<circle cx="171.2" cy="688.5" r="2"/>
<circle cx="173.8" cy="688.5" r="2"/>
<circle cx="176.4" cy="688.5" r="2"/>
<circle cx="179.0" cy="688.5" r="2"/>
<circle cx="181.6" cy="688.5" r="2"/>
<circle cx="184.2" cy="688.5" r="2"/>
<circle cx="186.8" cy="688.5" r="2"/>
<circle cx="189.4" cy="688.5" r="2"/>
<circle cx="192.0" cy="688.5" r="2"/>
<circle cx="194.6" cy="688.5" r="2"/>
<circle cx="197.2" cy="688.5" r="2"/>
<circle cx="199.8" cy="688.5" r="2"/>
<circle cx="202.4" cy="688.5" r="2"/>
<circle cx="205.0" cy="688.5" r="2"/>
<circle cx="207.6" cy="688.5" r="2"/>
<circle cx="210.2" cy="688.5" r="2"/>
<circle cx="212.8" cy="688.5" r="2"/>
<circle cx="215.4" cy="688.5" r="2"/>
<circle cx="218.0" cy="688.5" r="2"/>
<circle cx="220.6" cy="688.5" r="2"/>
<circle cx="223.2" cy="688.5" r="2"/>
<circle cx="225.8" cy="688.5" r="2"/>
<circle cx="228.4" cy="688.5" r="2"/>
<circle cx="231.0" cy="688.5" r="2"/>
<circle cx="233.6" cy="688.5" r="2"/>
<circle cx="236.2" cy="688.5" r="2"/>
<circle cx="238.8" cy="688.5" r="2"/>
<circle cx="241.4" cy="688.5" r="2"/>
<circle cx="244.0" cy="688.5" r="2"/>
<circle cx="246.6" cy="688.5" r="2"/>
<circle cx="249.2" cy="688.5" r="2"/>
<circle cx="251.8" cy="688.5" r="2"/>
<circle cx="254.4" cy="688.5" r="2"/>
<circle cx="257.0" cy="688.5" r="2"/>
<circle cx="259.6" cy="688.5" r="2"/>
<circle cx="262.2" cy="688.5" r="2"/>
<circle cx="264.8" cy="688.5" r="2"/>
<circle cx="267.4" cy="688.5" r="2"/>
<circle cx="270.0" cy="688.5" r="2"/>
<circle cx="272.6" cy="688.5" r="2"/>
<circle cx="275.2" cy="688.5" r="2"/>
<circle cx="277.8" cy="688.5" r="2"/>
<circle cx="280.4" cy="688.5" r="2"/>
<circle cx="283.0" cy="688.5" r="2"/>
<circle cx="285.6" cy="688.5" r="2"/>
<circle cx="288.2" cy="688.5" r="2"/>
<circle cx="290.8" cy="688.5" r="2"/>
<circle cx="293.4" cy="688.5" r="2"/>
<circle cx="296.0" cy="688.5" r="2"/>
<circle cx="298.6" cy="688.5" r="2"/>
<circle cx="301.2" cy="688.5" r="2"/>
<circle cx="303.8" cy="688.5" r="2"/>
<circle cx="306.4" cy="688.5" r="2"/>
<circle cx="309.0" cy="688.5" r="2"/>
<circle cx="311.6" cy="688.5" r="2"/>
<circle cx="314.2" cy="688.5" r="2"/>
<circle cx="316.8" cy="688.5" r="2"/>
<circle cx="319.4" cy="688.5" r="2"/>
<circle cx="322.0" cy="688.5" r="2"/>
<circle cx="324.6" cy="688.5" r="2"/>
<circle cx="327.2" cy="688.5" r="2"/>
<circle cx="329.8" cy="688.5" r="2"/>
<circle cx="332.4" cy="688.5" r="2"/>
<circle cx="335.0" cy="688.5" r="2"/>
<circle cx="337.6" cy="688.5" r="2"/>
<circle cx="340.2" cy="688.5" r="2"/>
<circle cx="342.8" cy="688.5" r="2"/>
<circle cx="345.4" cy="688.5" r="2"/>
<circle cx="348.0" cy="688.5" r="2"/>
<circle cx="350.6" cy="688.5" r="2"/>
<circle cx="353.2" cy="688.5" r="2"/>
<circle cx="355.8" cy="688.5" r="2"/>
<circle cx="358.4" cy="688.5" r="2"/>
<circle cx="361.0" cy="688.5" r="2"/>
<circle cx="363.6" cy="688.5" r="2"/>
<circle cx="366.2" cy="688.5" r="2"/>
<circle cx="368.8" cy="688.5" r="2"/>
<circle cx="371.4" cy="688.5" r="2"/>
</g>
<g shape-rendering="crispEdges" fill="#fff" stroke="#ff0000" stroke-width="1">
<rect x="311" y="407" width="107" height="2" fill="#ff0000" stroke="none"/>
<rect x="417" y="406" width="111" height="2" fill="#ff0000" stroke="none"/>
<circle cx="528" cy="407" r="1.6" shape-rendering="auto"/>
<circle cx="309.5" cy="408.5" r="2"/>
<circle cx="309.5" cy="411.5" r="2"/>
<circle cx="309.5" cy="414.5" r="2"/>
<circle cx="309.5" cy="416.5" r="2"/>
<circle cx="309.5" cy="419.5" r="2"/>
<circle cx="309.5" cy="422.5" r="2"/>
<circle cx="309.5" cy="425.5" r="2"/>
<circle cx="309.5" cy="428.5" r="2"/>
<circle cx="309.5" cy="430.5" r="2"/>
<circle cx="309.5" cy="433.5" r="2"/>
<circle cx="309.5" cy="436.5" r="2"/>
<circle cx="309.5" cy="438.5" r="2"/>
<circle cx="309.5" cy="440.5" r="2"/>
<circle cx="309.5" cy="442.5" r="2"/>
<circle cx="309.5" cy="444.5" r="2"/>
<circle cx="309.5" cy="446.5" r="2"/>
<circle cx="309.5" cy="448.5" r="2"/>
<circle cx="309.5" cy="450.5" r="2"/>
<circle cx="309.5" cy="451.5" r="2"/>
<circle cx="309.5" cy="453.5" r="2"/>
<circle cx="309.5" cy="455.5" r="2"/>
<circle cx="309.5" cy="456.5" r="2"/>
<circle cx="309.5" cy="457.5" r="2"/>
<circle cx="309.5" cy="459.5" r="2"/>
<circle cx="309.5" cy="460.5" r="2"/>
<circle cx="309.5" cy="462.5" r="2"/>
<circle cx="309.5" cy="463.5" r="2"/>
<circle cx="309.5" cy="465.5" r="2"/>
<circle cx="310.5" cy="466.5" r="2"/>
<circle cx="310.5" cy="467.5" r="2"/>
<circle cx="310.5" cy="468.5" r="2"/>
<circle cx="310.5" cy="470.5" r="2"/>
<circle cx="310.5" cy="471.5" r="2"/>
<circle cx="310.5" cy="472.5" r="2"/>
<circle cx="310.5" cy="473.5" r="2"/>
<circle cx="310.5" cy="475.5" r="2"/>
<circle cx="310.5" cy="477.5" r="2"/>
<circle cx="310.5" cy="478.5" r="2"/>
<circle cx="310.5" cy="479.5" r="2"/>
<circle cx="310.5" cy="480.5" r="2"/>
<circle cx="310.5" cy="481.5" r="2"/>
<circle cx="310.5" cy="482.5" r="2"/>
<circle cx="310.5" cy="484.5" r="2"/>
<circle cx="310.5" cy="485.5" r="2"/>
<circle cx="310.5" cy="486.5" r="2"/>
<circle cx="310.5" cy="487.5" r="2"/>
<circle cx="310.5" cy="488.5" r="2"/>
<circle cx="310.5" cy="490.5" r="2"/>
<circle cx="310.5" cy="491.5" r="2"/>
<circle cx="310.5" cy="492.5" r="2"/>
<circle cx="310.5" cy="493.5" r="2"/>
<circle cx="310.5" cy="494.5" r="2"/>
<circle cx="310.5" cy="495.5" r="2"/>
<circle cx="310.5" cy="497.5" r="2"/>
<circle cx="310.5" cy="498.5" r="2"/>
<circle cx="310.5" cy="499.5" r="2"/>
<circle cx="310.5" cy="500.5" r="2"/>
<circle cx="310.5" cy="502.5" r="2"/>
<circle cx="310.5" cy="503.5" r="2"/>
<circle cx="310.5" cy="504.5" r="2"/>
<circle cx="310.5" cy="505.5" r="2"/>
<circle cx="310.5" cy="506.5" r="2"/>
<circle cx="310.5" cy="507.5" r="2"/>
<circle cx="310.5" cy="508.5" r="2"/>
<circle cx="310.5" cy="509.5" r="2"/>
<circle cx="310.5" cy="510.5" r="2"/>
<circle cx="310.5" cy="511.5" r="2"/>
<circle cx="310.5" cy="512.5" r="2"/>
<circle cx="310.5" cy="513.5" r="2"/>
<circle cx="310.5" cy="514.5" r="2"/>
<circle cx="310.5" cy="516.5" r="2"/>
<circle cx="310.5" cy="517.5" r="2"/>
<circle cx="310.5" cy="519.5" r="2"/>
<circle cx="310.5" cy="520.5" r="2"/>
<circle cx="310.5" cy="522.5" r="2"/>
<circle cx="310.5" cy="524.5" r="2"/>
<circle cx="310.5" cy="525.5" r="2"/>
<circle cx="310.5" cy="527.5" r="2"/>
<circle cx="310.5" cy="528.5" r="2"/>
<circle cx="310.5" cy="529.5" r="2"/>
<circle cx="310.5" cy="530.5" r="2"/>
<circle cx="310.5" cy="531.5" r="2"/>
<circle cx="310.5" cy="533.5" r="2"/>
<circle cx="310.5" cy="534.5" r="2"/>
<circle cx="310.5" cy="535.5" r="2"/>
<circle cx="310.5" cy="537.5" r="2"/>
<circle cx="310.5" cy="539.5" r="2"/>
<circle cx="310.5" cy="541.5" r="2"/>
<circle cx="310.5" cy="542.5" r="2"/>
<circle cx="311.5" cy="543.5" r="2"/>
<circle cx="311.5" cy="545.5" r="2"/>
<circle cx="311.5" cy="546.5" r="2"/>
<circle cx="311.5" cy="547.5" r="2"/>
<circle cx="311.5" cy="548.5" r="2"/>
<circle cx="311.5" cy="549.5" r="2"/>
<circle cx="311.5" cy="550.5" r="2"/>
<circle cx="311.5" cy="551.5" r="2"/>
<circle cx="311.5" cy="552.5" r="2"/>
<circle cx="311.5" cy="553.5" r="2"/>
<circle cx="311.5" cy="554.5" r="2"/>
<circle cx="311.5" cy="555.5" r="2"/>
<circle cx="311.5" cy="556.5" r="2"/>
<circle cx="311.5" cy="557.5" r="2"/>
<circle cx="311.5" cy="558.5" r="2"/>
<circle cx="311.5" cy="559.5" r="2"/>
<circle cx="311.5" cy="560.5" r="2"/>
<circle cx="311.5" cy="561.5" r="2"/>
<circle cx="311.5" cy="562.5" r="2"/>
<circle cx="311.5" cy="564.5" r="2"/>
<circle cx="311.5" cy="566.5" r="2"/>
<circle cx="311.5" cy="567.5" r="2"/>
<circle cx="311.5" cy="568.5" r="2"/>
<circle cx="311.5" cy="570.5" r="2"/>
<circle cx="311.5" cy="571.5" r="2"/>
<circle cx="311.5" cy="573.5" r="2"/>
<circle cx="311.5" cy="574.5" r="2"/>
<circle cx="311.5" cy="576.5" r="2"/>
<circle cx="311.5" cy="577.5" r="2"/>
<circle cx="311.5" cy="578.5" r="2"/>
<circle cx="311.5" cy="579.5" r="2"/>
<circle cx="311.5" cy="580.5" r="2"/>
<circle cx="311.5" cy="581.5" r="2"/>
<circle cx="311.5" cy="582.5" r="2"/>
<circle cx="311.5" cy="584.5" r="2"/>
<circle cx="311.5" cy="586.5" r="2"/>
<circle cx="311.5" cy="587.5" r="2"/>
<circle cx="311.5" cy="588.5" r="2"/>
<circle cx="311.5" cy="589.5" r="2"/>
<circle cx="311.5" cy="590.5" r="2"/>
<circle cx="311.5" cy="592.5" r="2"/>
<circle cx="311.5" cy="593.5" r="2"/>
<circle cx="311.5" cy="594.5" r="2"/>
<circle cx="311.5" cy="595.5" r="2"/>
<circle cx="311.5" cy="596.5" r="2"/>
<circle cx="311.5" cy="597.5" r="2"/>
<circle cx="311.5" cy="598.5" r="2"/>
<circle cx="311.5" cy="599.5" r="2"/>
<circle cx="311.5" cy="600.5" r="2"/>
<circle cx="311.5" cy="601.5" r="2"/>
<circle cx="311.5" cy="602.5" r="2"/>
<circle cx="311.5" cy="604.5" r="2"/>
<circle cx="311.5" cy="605.5" r="2"/>
<circle cx="311.5" cy="607.5" r="2"/>
<circle cx="311.5" cy="609.5" r="2"/>
<circle cx="311.5" cy="610.5" r="2"/>
<circle cx="311.5" cy="612.5" r="2"/>
<circle cx="311.5" cy="614.5" r="2"/>
<circle cx="311.5" cy="615.5" r="2"/>
<circle cx="311.5" cy="616.5" r="2"/>
<circle cx="311.5" cy="617.5" r="2"/>
<circle cx="311.5" cy="618.5" r="2"/>
<circle cx="311.5" cy="619.5" r="2"/>
<circle cx="311.5" cy="620.5" r="2"/>
<circle cx="311.5" cy="622.5" r="2"/>
<circle cx="311.5" cy="623.5" r="2"/>
<circle cx="311.5" cy="625.5" r="2"/>
<circle cx="311.5" cy="626.5" r="2"/>
<circle cx="311.5" cy="627.5" r="2"/>
<circle cx="311.5" cy="628.5" r="2"/>
<circle cx="311.5" cy="630.5" r="2"/>
<circle cx="311.5" cy="631.5" r="2"/>
<circle cx="311.5" cy="632.5" r="2"/>
<circle cx="311.5" cy="633.5" r="2"/>
<circle cx="311.5" cy="635.5" r="2"/>
<circle cx="312.5" cy="637.5" r="2"/>
<circle cx="312.5" cy="638.5" r="2"/>
<circle cx="312.5" cy="639.5" r="2"/>
<circle cx="312.5" cy="640.5" r="2"/>
<circle cx="312.5" cy="641.5" r="2"/>
<circle cx="312.5" cy="642.5" r="2"/>
<circle cx="312.5" cy="643.5" r="2"/>
<circle cx="312.5" cy="645.5" r="2"/>
<circle cx="312.5" cy="646.5" r="2"/>
<circle cx="312.5" cy="647.5" r="2"/>
<circle cx="312.5" cy="648.5" r="2"/>
<circle cx="312.5" cy="650.5" r="2"/>
<circle cx="312.5" cy="651.5" r="2"/>
<circle cx="312.5" cy="652.5" r="2"/>
<circle cx="312.5" cy="653.5" r="2"/>
<circle cx="312.5" cy="654.5" r="2"/>
<circle cx="312.5" cy="655.5" r="2"/>
<circle cx="312.5" cy="656.5" r="2"/>
<circle cx="312.5" cy="658.5" r="2"/>
<circle cx="312.5" cy="660.5" r="2"/>
<circle cx="312.5" cy="661.5" r="2"/>
<circle cx="312.5" cy="662.5" r="2"/>
<circle cx="312.5" cy="663.5" r="2"/>
<circle cx="312.5" cy="664.5" r="2"/>
<circle cx="312.5" cy="665.5" r="2"/>
<circle cx="312.5" cy="666.5" r="2"/>
<circle cx="312.5" cy="668.5" r="2"/>
<circle cx="312.5" cy="669.5" r="2"/>
<circle cx="312.5" cy="670.5" r="2"/>
<circle cx="312.5" cy="671.5" r="2"/>
<rect x="311" y="672" width="3" height="18" stroke-width="2"/>
</g>
<g shape-rendering="crispEdges" fill="#fff" stroke="#0000ff" stroke-width="1">
<polyline fill="none" points="372.5,688.5 361.5,686.5 366.5,668.5"/>
<circle cx="356.5" cy="688.5" r="2"/>
<circle cx="354.5" cy="687.5" r="2"/>
<circle cx="356.5" cy="685.5" r="2"/>
<circle cx="357.5" cy="684.5" r="2"/>
<circle cx="355.5" cy="682.5" r="2"/>
<circle cx="355.5" cy="681.5" r="2"/>
<circle cx="358.5" cy="679.5" r="2"/>
<circle cx="357.5" cy="678.5" r="2"/>
<circle cx="357.5" cy="677.5" r="2"/>
<circle cx="359.5" cy="675.5" r="2"/>
<circle cx="360.5" cy="674.5" r="2"/>
<circle cx="359.5" cy="673.5" r="2"/>
<circle cx="361.5" cy="671.5" r="2"/>
<circle cx="361.5" cy="670.5" r="2"/>
<circle cx="364.5" cy="669.5" r="2"/>
<circle cx="363.5" cy="667.5" r="2"/>
<circle cx="366.5" cy="666.5" r="2"/>
<circle cx="364.5" cy="665.5" r="2"/>
<circle cx="366.5" cy="664.5" r="2"/>
<circle cx="367.5" cy="662.5" r="2"/>
<circle cx="369.5" cy="661.5" r="2"/>
<circle cx="368.5" cy="660.5" r="2"/>
<circle cx="368.5" cy="659.5" r="2"/>
<circle cx="369.5" cy="657.5" r="2"/>
<circle cx="371.5" cy="656.5" r="2"/>
<circle cx="371.5" cy="655.5" r="2"/>
<circle cx="373.5" cy="654.5" r="2"/>
<circle cx="374.5" cy="652.5" r="2"/>
<circle cx="373.5" cy="651.5" r="2"/>
<circle cx="374.5" cy="650.5" r="2"/>
<circle cx="376.5" cy="648.5" r="2"/>
<circle cx="377.5" cy="647.5" r="2"/>
<circle cx="378.5" cy="646.5" r="2"/>
<circle cx="377.5" cy="644.5" r="2"/>
<circle cx="377.5" cy="643.5" r="2"/>
<circle cx="379.5" cy="642.5" r="2"/>
<circle cx="381.5" cy="641.5" r="2"/>
<circle cx="380.5" cy="639.5" r="2"/>
<circle cx="381.5" cy="638.5" r="2"/>
<circle cx="382.5" cy="637.5" r="2"/>
<circle cx="383.5" cy="636.5" r="2"/>
<circle cx="384.5" cy="634.5" r="2"/>
<circle cx="386.5" cy="633.5" r="2"/>
<circle cx="385.5" cy="632.5" r="2"/>
<circle cx="385.5" cy="630.5" r="2"/>
<circle cx="389.5" cy="629.5" r="2"/>
<circle cx="389.5" cy="628.5" r="2"/>
<circle cx="390.5" cy="627.5" r="2"/>
<circle cx="389.5" cy="625.5" r="2"/>
<circle cx="392.5" cy="624.5" r="2"/>
<circle cx="392.5" cy="623.5" r="2"/>
<circle cx="391.5" cy="621.5" r="2"/>
<circle cx="393.5" cy="620.5" r="2"/>
<circle cx="394.5" cy="619.5" r="2"/>
<circle cx="394.5" cy="617.5" r="2"/>
<circle cx="394.5" cy="616.5" r="2"/>
<circle cx="394.5" cy="615.5" r="2"/>
<circle cx="395.5" cy="613.5" r="2"/>
<circle cx="395.5" cy="612.5" r="2"/>
<circle cx="395.5" cy="610.5" r="2"/>
<circle cx="397.5" cy="609.5" r="2"/>
<circle cx="397.5" cy="608.5" r="2"/>
<circle cx="399.5" cy="606.5" r="2"/>
<circle cx="397.5" cy="605.5" r="2"/>
<circle cx="400.5" cy="603.5" r="2"/>
<circle cx="400.5" cy="602.5" r="2"/>
<circle cx="401.5" cy="601.5" r="2"/>
<circle cx="402.5" cy="599.5" r="2"/>
<circle cx="402.5" cy="598.5" r="2"/>
<circle cx="402.5" cy="596.5" r="2"/>
<circle cx="400.5" cy="595.5" r="2"/>
<circle cx="403.5" cy="594.5" r="2"/>
<circle cx="402.5" cy="592.5" r="2"/>
<circle cx="403.5" cy="591.5" r="2"/>
<circle cx="405.5" cy="589.5" r="2"/>
<circle cx="405.5" cy="588.5" r="2"/>
<circle cx="405.5" cy="587.5" r="2"/>
<circle cx="407.5" cy="585.5" r="2"/>
<circle cx="407.5" cy="584.5" r="2"/>
<circle cx="407.5" cy="582.5" r="2"/>
<circle cx="407.5" cy="581.5" r="2"/>
<circle cx="410.5" cy="580.5" r="2"/>
<circle cx="409.5" cy="578.5" r="2"/>
<circle cx="411.5" cy="577.5" r="2"/>
<circle cx="410.5" cy="576.5" r="2"/>
<circle cx="410.5" cy="574.5" r="2"/>
<circle cx="411.5" cy="573.5" r="2"/>
<circle cx="413.5" cy="571.5" r="2"/>
<circle cx="411.5" cy="570.5" r="2"/>
<circle cx="414.5" cy="569.5" r="2"/>
<circle cx="415.5" cy="567.5" r="2"/>
<circle cx="415.5" cy="566.5" r="2"/>
<circle cx="415.5" cy="564.5" r="2"/>
<circle cx="413.5" cy="563.5" r="2"/>
<circle cx="416.5" cy="562.5" r="2"/>
<circle cx="417.5" cy="560.5" r="2"/>
<circle cx="415.5" cy="559.5" r="2"/>
<circle cx="416.5" cy="557.5" r="2"/>
<circle cx="417.5" cy="556.5" r="2"/>
<circle cx="418.5" cy="555.5" r="2"/>
<circle cx="418.5" cy="553.5" r="2"/>
<circle cx="419.5" cy="552.5" r="2"/>
<circle cx="421.5" cy="550.5" r="2"/>
<circle cx="419.5" cy="549.5" r="2"/>
<circle cx="420.5" cy="548.5" r="2"/>
<circle cx="420.5" cy="546.5" r="2"/>
<circle cx="421.5" cy="545.5" r="2"/>
<circle cx="421.5" cy="543.5" r="2"/>
<circle cx="425.5" cy="542.5" r="2"/>
<circle cx="425.5" cy="541.5" r="2"/>
<circle cx="423.5" cy="539.5" r="2"/>
<circle cx="425.5" cy="538.5" r="2"/>
<circle cx="425.5" cy="537.5" r="2"/>
<circle cx="426.5" cy="535.5" r="2"/>
<circle cx="427.5" cy="534.5" r="2"/>
<circle cx="428.5" cy="533.5" r="2"/>
<circle cx="429.5" cy="531.5" r="2"/>
<circle cx="429.5" cy="530.5" r="2"/>
<circle cx="429.5" cy="529.5" r="2"/>
<circle cx="430.5" cy="527.5" r="2"/>
<circle cx="430.5" cy="526.5" r="2"/>
<circle cx="432.5" cy="525.5" r="2"/>
<circle cx="433.5" cy="523.5" r="2"/>
<circle cx="433.5" cy="522.5" r="2"/>
<circle cx="432.5" cy="521.5" r="2"/>
<circle cx="433.5" cy="519.5" r="2"/>
<circle cx="435.5" cy="518.5" r="2"/>
<circle cx="436.5" cy="516.5" r="2"/>
<circle cx="437.5" cy="515.5" r="2"/>
<circle cx="437.5" cy="514.5" r="2"/>
<circle cx="439.5" cy="512.5" r="2"/>
<circle cx="439.5" cy="511.5" r="2"/>
<circle cx="439.5" cy="510.5" r="2"/>
<circle cx="439.5" cy="508.5" r="2"/>
<circle cx="440.5" cy="507.5" r="2"/>
<circle cx="441.5" cy="505.5" r="2"/>
<circle cx="441.5" cy="504.5" r="2"/>
<circle cx="442.5" cy="503.5" r="2"/>
<circle cx="442.5" cy="501.5" r="2"/>
<circle cx="442.5" cy="500.5" r="2"/>
<circle cx="444.5" cy="499.5" r="2"/>
<circle cx="445.5" cy="497.5" r="2"/>
<circle cx="443.5" cy="496.5" r="2"/>
<circle cx="445.5" cy="495.5" r="2"/>
<circle cx="446.5" cy="493.5" r="2"/>
<circle cx="448.5" cy="492.5" r="2"/>
<circle cx="449.5" cy="491.5" r="2"/>
<circle cx="448.5" cy="489.5" r="2"/>
<circle cx="450.5" cy="488.5" r="2"/>
<circle cx="451.5" cy="487.5" r="2"/>
<circle cx="450.5" cy="485.5" r="2"/>
<circle cx="451.5" cy="484.5" r="2"/>
<circle cx="451.5" cy="483.5" r="2"/>
<circle cx="454.5" cy="482.5" r="2"/>
<circle cx="454.5" cy="480.5" r="2"/>
<circle cx="456.5" cy="479.5" r="2"/>
<circle cx="456.5" cy="478.5" r="2"/>
<circle cx="457.5" cy="476.5" r="2"/>
<circle cx="458.5" cy="475.5" r="2"/>
<circle cx="458.5" cy="474.5" r="2"/>
<circle cx="457.5" cy="472.5" r="2"/>
<circle cx="459.5" cy="471.5" r="2"/>
<circle cx="457.5" cy="470.5" r="2"/>
<circle cx="458.5" cy="468.5" r="2"/>
<circle cx="461.5" cy="466.5" r="2"/>
<circle cx="459.5" cy="464.5" r="2"/>
<circle cx="460.5" cy="463.5" r="2"/>
<circle cx="461.5" cy="461.5" r="2"/>
<circle cx="464.5" cy="459.5" r="2"/>
<circle cx="463.5" cy="457.5" r="2"/>
<circle cx="464.5" cy="455.5" r="2"/>
<circle cx="468.5" cy="453.5" r="2"/>
<circle cx="466.5" cy="450.5" r="2"/>
<circle cx="469.5" cy="448.5" r="2"/>
<circle cx="470.5" cy="446.5" r="2"/>
<circle cx="472.5" cy="444.5" r="2"/>
<circle cx="474.5" cy="441.5" r="2"/>
<circle cx="476.5" cy="439.5" r="2"/>
<circle cx="477.5" cy="437.5" r="2"/>
<circle cx="479.5" cy="434.5" r="2"/>
<circle cx="481.5" cy="431.5" r="2"/>
<circle cx="483.5" cy="428.5" r="2"/>
<circle cx="485.5" cy="425.5" r="2"/>
<circle cx="487.5" cy="421.5" r="2"/>
<circle cx="489.5" cy="418.5" r="2"/>
<circle cx="491.5" cy="414.5" r="2"/>
<circle cx="493.5" cy="410.5" r="2"/>
<circle cx="495.5" cy="407.5" r="2"/>
<circle cx="495.5" cy="406.5" r="2"/>
</g>
<g class="ax">
<text x="270" y="324.9" style="font-size:19.6px" textLength="168" lengthAdjust="spacingAndGlyphs">Leakage current [A]</text>
<text x="130.3" y="355.7">10<tspan class="sup" dy="-9.8">-12</tspan></text>
<text x="212" y="355.7">10<tspan class="sup" dy="-9.8">-10</tspan></text>
<text x="295.5" y="355.7">10<tspan class="sup" dy="-9.8">-8</tspan></text>
<text x="377" y="355.7">10<tspan class="sup" dy="-9.8">-6</tspan></text>
<text x="458.5" y="355.7">10<tspan class="sup" dy="-9.8">-4</tspan></text>
<text x="539.5" y="355.7">10<tspan class="sup" dy="-9.8">-2</tspan></text>
<text x="81" y="376.8" style="font-size:20px">I [A]</text>
<text x="141" y="409.5" text-anchor="end">4</text>
<text x="141" y="480" text-anchor="end">3</text>
<text x="141" y="550.4" text-anchor="end">2</text>
<text x="141" y="620.9" text-anchor="end">1</text>
<text x="141" y="691.3" text-anchor="end">0</text>
<text x="149" y="708.4" text-anchor="middle">0</text>
<text x="230.5" y="708.4" text-anchor="middle">5</text>
<text x="311" y="708.4" text-anchor="middle">10</text>
<text x="392.5" y="708.4" text-anchor="middle">15</text>
<text x="473" y="708.4" text-anchor="middle">20</text>
<text x="554" y="708.4" text-anchor="middle">25</text>
<text x="519.5" y="731.3" style="font-size:19.5px">V [V]</text>
</g>
</svg>
</body>
</html>
